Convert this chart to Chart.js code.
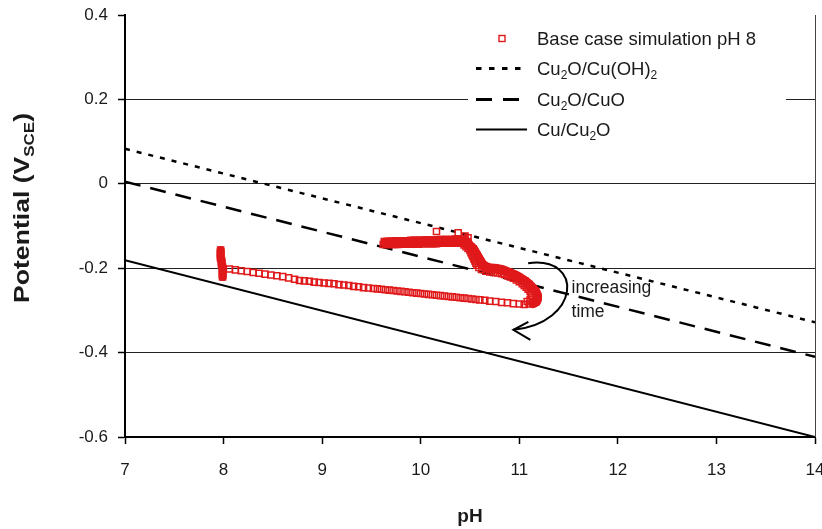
<!DOCTYPE html>
<html>
<head>
<meta charset="utf-8">
<script src="https://cdn.jsdelivr.net/npm/chart.js@4.4.1/dist/chart.umd.min.js"></script>
<style>
  html, body { margin: 0; padding: 0; background: #fff; }
  canvas { display: block; }
</style>
</head>
<body>
<canvas id="pourbaixChart" width="822" height="529"></canvas>
<script>
// axis ranges
const phAxis = [7, 14];
const potentialAxis = [-0.6, 0.4];

// equilibrium lines: potential (V vs SCE) at each end of the pH span
const linePH = [7, 14];
const cuOHLine = [0.083, -0.328];   // Cu2O/Cu(OH)2
const cuOLine = [0.005, -0.41];     // Cu2O/CuO
const cuLine = [-0.181, -0.6];      // Cu/Cu2O

// base case simulation, [pH, potential] pairs
const simStart = [
    [7.97,-0.157],[7.97,-0.162],[7.97,-0.167],[7.97,-0.172],[7.97,-0.177],[7.98,-0.182],[7.98,-0.187],
    [7.98,-0.192],[7.99,-0.197],[7.99,-0.202],[7.99,-0.207],[7.99,-0.212],[7.99,-0.217],[7.99,-0.221]
];
const simDrift = [
    [8.06,-0.202],[8.12,-0.204],[8.18,-0.206],[8.24,-0.208],[8.30,-0.210],[8.36,-0.212],[8.42,-0.214],
    [8.48,-0.216],[8.54,-0.218],[8.60,-0.220],[8.66,-0.223],[8.72,-0.226],[8.77,-0.229],[8.82,-0.230],
    [8.87,-0.231],[8.92,-0.233],[8.97,-0.234],[9.02,-0.235],[9.07,-0.236],[9.12,-0.237],[9.17,-0.239],
    [9.22,-0.240],[9.27,-0.241],[9.32,-0.243],[9.37,-0.244],[9.42,-0.246],[9.47,-0.247],[9.52,-0.248],
    [9.56,-0.249],[9.60,-0.250],[9.64,-0.251],[9.68,-0.252],[9.72,-0.253],[9.76,-0.254],[9.80,-0.255],
    [9.84,-0.256],[9.88,-0.257],[9.92,-0.258],[9.96,-0.259],[10.00,-0.260],[10.04,-0.261],[10.08,-0.262],
    [10.12,-0.263],[10.16,-0.264],[10.20,-0.265],[10.24,-0.266],[10.28,-0.267],[10.32,-0.268],[10.36,-0.269],
    [10.40,-0.270],[10.44,-0.271],[10.48,-0.272],[10.52,-0.273],[10.56,-0.274],[10.60,-0.275],[10.65,-0.276],
    [10.70,-0.278],[10.76,-0.279],[10.82,-0.281],[10.88,-0.282],[10.94,-0.284],[11.00,-0.285],[11.05,-0.286],
    [11.10,-0.285]
];
const simTurn = [
    [11.14,-0.283],[11.17,-0.279],[11.18,-0.274],[11.18,-0.269],[11.18,-0.264],[11.17,-0.259],[11.16,-0.254],
    [11.14,-0.249],[11.12,-0.244],[11.10,-0.239],[11.08,-0.235],[11.06,-0.231],[11.03,-0.227],[11.00,-0.222],
    [10.97,-0.218],[10.94,-0.215],[10.91,-0.212],[10.88,-0.209],[10.85,-0.206],[10.82,-0.204],[10.78,-0.202],
    [10.74,-0.201],[10.70,-0.200],[10.67,-0.198],[10.64,-0.194],[10.62,-0.190],[10.61,-0.186],[10.60,-0.182],
    [10.59,-0.178],[10.58,-0.174],[10.57,-0.170],[10.56,-0.166],[10.55,-0.162],[10.54,-0.158],[10.53,-0.154],
    [10.51,-0.150],[10.49,-0.146],[10.48,-0.142],[10.47,-0.138],[10.45,-0.136]
];
const simTurnInner = [
    [11.08,-0.279],[11.11,-0.275],[11.13,-0.270],[11.13,-0.265],[11.12,-0.260],[11.11,-0.255],[11.09,-0.250],
    [11.07,-0.245],[11.05,-0.241],[11.03,-0.237],[11.00,-0.232],[10.97,-0.228],[10.94,-0.224],[10.91,-0.221],
    [10.88,-0.218],[10.85,-0.215],[10.82,-0.213],[10.78,-0.211],[10.74,-0.210],[10.70,-0.209],[10.66,-0.207],
    [10.62,-0.203],[10.59,-0.198],[10.57,-0.193],[10.56,-0.188],[10.55,-0.183],[10.54,-0.178],[10.53,-0.173],
    [10.52,-0.168],[10.51,-0.163],[10.50,-0.158],[10.48,-0.153],[10.46,-0.149],[10.44,-0.145]
];
const simReturn = [
    [10.42,-0.136],[10.30,-0.136],[10.18,-0.137],[10.06,-0.137],[9.94,-0.138],[9.82,-0.138],[9.70,-0.139],
    [9.64,-0.140]
];
const simReturnUpper = [
    [10.44,-0.131],[10.41,-0.131],[10.38,-0.131],[10.35,-0.131],[10.32,-0.132],[10.29,-0.132],[10.26,-0.132],
    [10.23,-0.132],[10.20,-0.132],[10.17,-0.133],[10.14,-0.133],[10.11,-0.133],[10.08,-0.133],[10.05,-0.133],
    [10.02,-0.134],[9.99,-0.134],[9.96,-0.134],[9.93,-0.134],[9.90,-0.134],[9.87,-0.135],[9.84,-0.135],
    [9.81,-0.135],[9.78,-0.135],[9.75,-0.135],[9.72,-0.136],[9.69,-0.136],[9.66,-0.136],[9.63,-0.137]
];
const simReturnLower = [
    [10.43,-0.140],[10.40,-0.140],[10.37,-0.140],[10.34,-0.140],[10.31,-0.141],[10.28,-0.141],[10.25,-0.141],
    [10.22,-0.141],[10.19,-0.141],[10.16,-0.142],[10.13,-0.142],[10.10,-0.142],[10.07,-0.142],[10.04,-0.142],
    [10.01,-0.142],[9.98,-0.143],[9.95,-0.143],[9.92,-0.143],[9.89,-0.143],[9.86,-0.143],[9.83,-0.143],
    [9.80,-0.143],[9.77,-0.144],[9.74,-0.144],[9.71,-0.144],[9.68,-0.144],[9.65,-0.144],[9.62,-0.144]
];
const simStray = [[10.16,-0.113],[10.38,-0.116],[10.45,-0.124],[10.48,-0.128]];

const FONT = "'Liberation Sans', Arial, Helvetica, sans-serif";
const INK = '#1a1a1a';
const SIM_RED = '#e0191b';

const toXY = pairs => pairs.map(p => ({ x: p[0], y: p[1] }));
const lineXY = vals => vals.map((v, i) => ({ x: linePH[i], y: v }));

const simPoints = [].concat(simStart, simDrift, simTurn, simTurnInner,
    simReturnUpper, simReturnLower, simStray);

// draw text with "_" marking a subscript run, e.g. ['Cu', '_2', 'O']
function drawRuns(ctx, runs, x, y, size, weight, subSize, subDrop) {
    let cx = x;
    runs.forEach(r => {
        const sub = r.startsWith('_');
        const txt = sub ? r.slice(1) : r;
        ctx.font = weight + ' ' + (sub ? subSize : size) + 'px ' + FONT;
        ctx.fillText(txt, cx, sub ? y + subDrop : y);
        cx += ctx.measureText(txt).width;
    });
    return cx - x;
}
function runsWidth(ctx, runs, size, weight, subSize) {
    let w = 0;
    runs.forEach(r => {
        const sub = r.startsWith('_');
        ctx.font = weight + ' ' + (sub ? subSize : size) + 'px ' + FONT;
        w += ctx.measureText(sub ? r.slice(1) : r).width;
    });
    return w;
}

// legend inside the plot, white box over the grid
const boxLegend = {
    id: 'boxLegend',
    beforeDatasetsDraw(chart) {
        const { ctx, chartArea: a } = chart;
        ctx.save();
        ctx.fillStyle = '#fff';
        ctx.fillRect(a.left + 343, a.top + 5, 318, 142);

        const sx0 = a.left + 351, tx = a.left + 412;
        const rows = [a.top + 23.5, a.top + 53.5, a.top + 84.5, a.top + 114.5];

        // marker
        const s = 6;
        ctx.strokeStyle = SIM_RED;
        ctx.lineWidth = 1.4;
        ctx.strokeRect(a.left + 377 - s / 2, rows[0] - s / 2, s, s);

        ctx.strokeStyle = '#000';
        ctx.lineCap = 'butt';
        ctx.lineWidth = 3;
        ctx.setLineDash([5.5, 7.5]);
        ctx.beginPath(); ctx.moveTo(sx0, rows[1]); ctx.lineTo(sx0 + 48, rows[1]); ctx.stroke();
        ctx.setLineDash([16, 11]);
        ctx.beginPath(); ctx.moveTo(sx0, rows[2]); ctx.lineTo(sx0 + 43, rows[2]); ctx.stroke();
        ctx.setLineDash([]);
        ctx.lineWidth = 2;
        ctx.beginPath(); ctx.moveTo(sx0, rows[3]); ctx.lineTo(sx0 + 51, rows[3]); ctx.stroke();

        ctx.fillStyle = INK;
        ctx.textBaseline = 'middle';
        ctx.textAlign = 'left';
        const labels = [
            ['Base case simulation pH 8'],
            ['Cu', '_2', 'O/Cu(OH)', '_2'],
            ['Cu', '_2', 'O/CuO'],
            ['Cu/Cu', '_2', 'O']
        ];
        labels.forEach((runs, i) => drawRuns(ctx, runs, tx, rows[i] + 1, 18.5, 'normal', 12, 6));
        ctx.restore();
    }
};

// curved "increasing time" arrow, right-hand frame line and y-axis title
const extras = {
    id: 'extras',
    afterDatasetsDraw(chart) {
        const { ctx, chartArea: a, scales: { x, y } } = chart;
        const P = (ph, v) => [x.getPixelForValue(ph), y.getPixelForValue(v)];
        const s = P(11.09, -0.188), c1 = P(11.66, -0.17), c2 = P(11.62, -0.33), e = P(10.94, -0.346);
        ctx.save();
        ctx.strokeStyle = '#000';
        ctx.lineWidth = 2;
        ctx.beginPath();
        ctx.moveTo(s[0], s[1]);
        ctx.bezierCurveTo(c1[0], c1[1], c2[0], c2[1], e[0], e[1]);
        ctx.stroke();
        ctx.beginPath();
        ctx.moveTo(e[0] + 15, e[1] - 8);
        ctx.lineTo(e[0], e[1]);
        ctx.lineTo(e[0] + 17, e[1] + 10);
        ctx.stroke();

        ctx.fillStyle = INK;
        ctx.font = '17.5px ' + FONT;
        ctx.textAlign = 'left';
        ctx.textBaseline = 'alphabetic';
        const t1 = P(11.53, -0.259), t2 = P(11.53, -0.316);
        ctx.fillText('increasing', t1[0], t1[1]);
        ctx.fillText('time', t2[0], t2[1]);

        ctx.strokeStyle = '#444';
        ctx.lineWidth = 1;
        ctx.beginPath();
        ctx.moveTo(a.right + 0.5, a.top);
        ctx.lineTo(a.right + 0.5, a.bottom);
        ctx.stroke();
        ctx.restore();
    },
    afterDraw(chart) {
        const { ctx } = chart;
        const runs = ['Potential (V', '_SCE', ')'];
        ctx.save();
        ctx.fillStyle = INK;
        ctx.textBaseline = 'alphabetic';
        ctx.textAlign = 'left';
        const w = runsWidth(ctx, runs, 22, 'bold', 14);
        const k = 190 / w;
        ctx.translate(29, 208);
        ctx.rotate(-Math.PI / 2);
        ctx.scale(k, 1);
        drawRuns(ctx, runs, -w / 2, 0, 22, 'bold', 14, 5);
        ctx.restore();
    }
};

// the dense stretches of the trace merge into a solid band
const bandStyle = {
    showLine: true,
    borderColor: SIM_RED,
    borderCapStyle: 'round',
    borderJoinStyle: 'round',
    pointRadius: 0,
    order: 1
};

const ctx = document.getElementById('pourbaixChart').getContext('2d');
new Chart(ctx, {
    type: 'scatter',
    data: {
        datasets: [
            {
                label: 'Base case simulation pH 8',
                data: toXY(simPoints),
                pointStyle: 'rect',
                pointRadius: 4.3,
                pointBorderWidth: 1.5,
                pointBorderColor: SIM_RED,
                pointBackgroundColor: 'rgba(255,255,255,0)',
                showLine: false,
                order: 0
            },
            Object.assign({ label: 'hold', data: toXY(simStart), borderWidth: 8 }, bandStyle),
            Object.assign({ label: 'turn', data: toXY(simTurn.concat(simReturn)), borderWidth: 10 }, bandStyle),
            {
                label: 'Cu2O/Cu(OH)2',
                data: lineXY(cuOHLine),
                showLine: true,
                borderColor: '#000',
                borderWidth: 2.5,
                borderDash: [5, 7],
                pointRadius: 0,
                order: 2
            },
            {
                label: 'Cu2O/CuO',
                data: lineXY(cuOLine),
                showLine: true,
                borderColor: '#000',
                borderWidth: 2.5,
                borderDash: [16, 10],
                pointRadius: 0,
                order: 3
            },
            {
                label: 'Cu/Cu2O',
                data: lineXY(cuLine),
                showLine: true,
                borderColor: '#000',
                borderWidth: 2,
                pointRadius: 0,
                order: 4
            }
        ]
    },
    options: {
        responsive: false,
        animation: false,
        layout: { padding: { left: 0, right: 7, top: 15, bottom: 0 } },
        plugins: {
            legend: { display: false },
            tooltip: { enabled: false }
        },
        scales: {
            x: {
                type: 'linear',
                min: phAxis[0],
                max: phAxis[1],
                afterFit: scale => {
                    scale.height = 92;
                    scale.paddingLeft = 0;
                    scale.paddingRight = 0;
                },
                ticks: {
                    stepSize: 1,
                    color: INK,
                    padding: 16,
                    font: { family: FONT, size: 17 }
                },
                grid: {
                    drawOnChartArea: false,
                    drawTicks: true,
                    tickLength: 7,
                    tickColor: '#000',
                    tickWidth: 1.5
                },
                border: { display: true, color: '#000', width: 2 },
                title: {
                    display: true,
                    text: 'pH',
                    color: INK,
                    font: { family: FONT, size: 19, weight: 'bold' },
                    padding: { top: 0, bottom: 1 }
                }
            },
            y: {
                type: 'linear',
                min: potentialAxis[0],
                max: potentialAxis[1],
                afterFit: scale => {
                    scale.width = 125;
                    scale.paddingTop = 0;
                    scale.paddingBottom = 0;
                },
                ticks: {
                    stepSize: 0.2,
                    color: INK,
                    padding: 10,
                    font: { family: FONT, size: 17 },
                    callback: v => String(Number(v.toFixed(1)))
                },
                grid: {
                    color: c => (c.tick && Math.abs(c.tick.value - potentialAxis[1]) < 1e-6) ? 'rgba(0,0,0,0)' : '#222',
                    lineWidth: 1,
                    drawTicks: true,
                    tickLength: 7,
                    tickColor: '#000',
                    tickWidth: 1.5
                },
                border: { display: true, color: '#000', width: 2 }
            }
        }
    },
    plugins: [boxLegend, extras]
});
</script>
</body>
</html>
